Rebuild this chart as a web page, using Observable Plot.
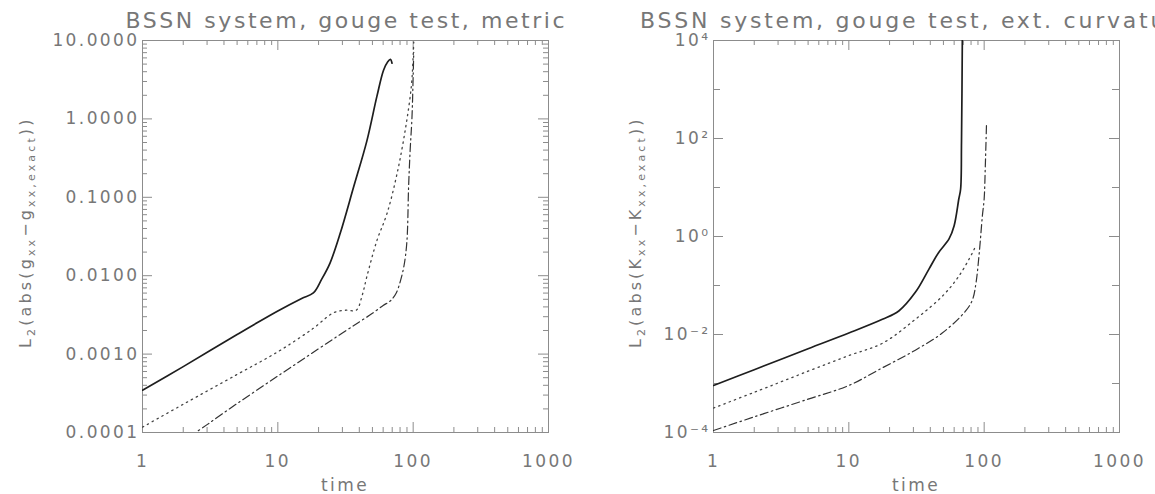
<!DOCTYPE html>
<html>
<head>
<meta charset="utf-8">
<script src="https://cdn.jsdelivr.net/npm/d3@7"></script>
<script src="https://cdn.jsdelivr.net/npm/@observablehq/plot@0.6"></script>
<style>
html, body { margin: 0; padding: 0; background: #fff; }
#wrap { display: flex; width: 1155px; height: 494px; overflow: hidden; }
#wrap svg { display: block; flex: none; }
</style>
</head>
<body>
<div id="wrap"></div>
<script>
// ---------- axis ticks / labels ----------
const xMajor = [1, 10, 100, 1000];
const xMajorLabels = ["1", "10", "100", "1000"];
const xMinor = [2, 3, 4, 5, 6, 7, 8, 9, 20, 30, 40, 50, 60, 70, 80, 90, 200, 300, 400, 500, 600, 700, 800, 900];

const metricYMajor = [1e-4, 1e-3, 1e-2, 1e-1, 1, 10];
const metricYLabels = ["0.0001", "0.0010", "0.0100", "0.1000", "1.0000", "10.0000"];
const metricYMinor = [2e-4, 3e-4, 4e-4, 5e-4, 6e-4, 7e-4, 8e-4, 9e-4,
  2e-3, 3e-3, 4e-3, 5e-3, 6e-3, 7e-3, 8e-3, 9e-3,
  0.02, 0.03, 0.04, 0.05, 0.06, 0.07, 0.08, 0.09,
  0.2, 0.3, 0.4, 0.5, 0.6, 0.7, 0.8, 0.9,
  2, 3, 4, 5, 6, 7, 8, 9];

const curvYMajor = [1e-4, 1e-2, 1, 1e2, 1e4];
const curvYLabels = ["10⁻⁴", "10⁻²", "10⁰", "10²", "10⁴"];
const curvYMinor = [1e-3, 1e-1, 10, 1e3];

// ---------- titles ----------
const metricTitle = "BSSN system, gouge test, metric";
const curvTitle = "BSSN system, gouge test, ext. curvature";
const xLabel = "time";

// ---------- data: metric panel ----------
const metricSolidT = [1, 2, 5, 10, 15, 18.3, 21, 24.3, 28.9, 36.3, 45.5, 54, 60.4, 64.9, 67.9, 69.8];
const metricSolidV = [3.47e-4, 6.92e-4, 1.78e-3, 3.55e-3, 5.13e-3, 6.03e-3, 8.91e-3, 0.0145, 0.0347, 0.135, 0.525, 1.95, 4.17, 5.37, 5.75, 5.13];

const metricDotT = [1, 2, 5, 10, 18, 26, 32, 38, 42, 45.5, 54, 64, 76, 88, 97, 100, 101];
const metricDotV = [1.17e-4, 2.29e-4, 5.5e-4, 1.07e-3, 2.09e-3, 3.39e-3, 3.63e-3, 3.63e-3, 5.62e-3, 9.77e-3, 0.0282, 0.0617, 0.2, 0.776, 2.63, 6.31, 9.55];

const metricDashDotT = [2.2, 3, 5, 10, 20, 30, 40, 50, 60, 68, 75, 81, 86, 90, 92.5, 95, 98, 100, 101];
const metricDashDotV = [8.7e-5, 1.26e-4, 2.34e-4, 5.25e-4, 1.17e-3, 1.86e-3, 2.57e-3, 3.31e-3, 4.17e-3, 4.79e-3, 6.03e-3, 8.91e-3, 0.0141, 0.0282, 0.135, 0.398, 1.05, 3.55, 7.08];

// ---------- data: extrinsic curvature panel ----------
const curvSolidT = [1, 2, 5, 10, 17.7, 23.4, 31, 39, 46, 55, 60, 65, 67, 68, 69];
const curvSolidV = [9.12e-4, 1.91e-3, 5.13e-3, 0.0107, 0.0204, 0.0302, 0.0724, 0.214, 0.468, 0.891, 1.66, 5.89, 9.33, 85.1, 12600];

const curvDotT = [1, 2, 5, 10, 17.7, 31, 49, 65, 82, 87];
const curvDotV = [3.16e-4, 6.61e-4, 1.78e-3, 3.72e-3, 6.61e-3, 0.0204, 0.0603, 0.155, 0.468, 0.661];

const curvDashDotT = [1, 2, 5, 10, 17.7, 31, 49, 73, 82, 87, 92, 97, 100, 102, 104];
const curvDashDotV = [1.1e-4, 2.09e-4, 4.79e-4, 9.12e-4, 2.09e-3, 4.79e-3, 0.0107, 0.0302, 0.0513, 0.112, 0.468, 2.63, 5.89, 28.2, 186];

// ---------- helpers ----------
const zip = (ts, vs) => ts.map((t, i) => ({t, v: vs[i]}));
const AX = "#8c8c8c";
const TXT = "#777";
const FONT = "DejaVu Sans, sans-serif";
const HEIGHT = 494, MT = 40, MB = 62;

const lineStyles = {
  solid:   {stroke: "#1e1e1e", strokeWidth: 1.7},
  dotted:  {stroke: "#444", strokeWidth: 1.3, strokeDasharray: "1.4,4.2"},
  dashdot: {stroke: "#333", strokeWidth: 1.2, strokeDasharray: "8,3.5,1.5,3.5"}
};

function panel(cfg) {
  const W = cfg.width - cfg.marginLeft - cfg.marginRight;
  const H = HEIGHT - MT - MB;
  const labelOf = new Map(cfg.yMajor.map((v, i) => [v, cfg.yLabels[i]]));
  const xLabelOf = new Map(xMajor.map((v, i) => [v, xMajorLabels[i]]));
  const marks = [
    Plot.frame({stroke: AX, strokeWidth: 1}),
    // x ticks (bottom + top, inward)
    Plot.ruleX(xMajor, {stroke: AX, insetTop: H - 10}),
    Plot.ruleX(xMajor, {stroke: AX, insetBottom: H - 10}),
    Plot.ruleX(xMinor, {stroke: AX, insetTop: H - 5}),
    Plot.ruleX(xMinor, {stroke: AX, insetBottom: H - 5}),
    // y ticks (left + right, inward)
    Plot.ruleY(cfg.yMajor, {stroke: AX, insetRight: W - 10}),
    Plot.ruleY(cfg.yMajor, {stroke: AX, insetLeft: W - 10}),
    Plot.ruleY(cfg.yMinor, {stroke: AX, insetRight: W - cfg.minorLen}),
    Plot.ruleY(cfg.yMinor, {stroke: AX, insetLeft: W - cfg.minorLen}),
    // tick labels
    Plot.axisX(xMajor, {anchor: "bottom", tickSize: 0, tickPadding: 22, fontSize: 17, fill: TXT,
      tickFormat: d => xLabelOf.get(d), label: null}),
    Plot.axisY(cfg.yMajor, {anchor: "left", tickSize: 0, tickPadding: 3, fontSize: 17, fill: TXT,
      tickFormat: d => labelOf.get(d), label: null}),
    // curves
    ...cfg.series.map(s => Plot.line(s.data, {x: "t", y: "v", curve: "catmull-rom", clip: true, ...lineStyles[s.style]}))
  ];
  const svg = Plot.plot({
    width: cfg.width,
    height: HEIGHT,
    marginTop: MT,
    marginBottom: MB,
    marginLeft: cfg.marginLeft,
    marginRight: cfg.marginRight,
    x: {type: "log", domain: [1, 1000], axis: null},
    y: {type: "log", domain: cfg.yDomain, axis: null},
    style: {fontFamily: FONT, background: "#fff", letterSpacing: "2.4px", overflow: "hidden"},
    marks
  });

  const s = d3.select(svg);
  const cx = cfg.marginLeft + W / 2;
  // title
  s.append("text")
    .attr("x", cx).attr("y", 28)
    .attr("text-anchor", "middle")
    .attr("font-size", 22)
    .attr("fill", TXT)
    .style("letter-spacing", "0px")
    .attr("textLength", cfg.titleLength)
    .attr("lengthAdjust", "spacing")
    .text(cfg.title);
  // x label
  s.append("text")
    .attr("x", cx).attr("y", 491)
    .attr("text-anchor", "middle")
    .attr("font-size", 17)
    .attr("fill", TXT)
    .text(xLabel);
  // y label with subscripts
  const yl = s.append("text")
    .attr("transform", `translate(${cfg.yLabelX},${MT + H / 2 - 3}) rotate(-90)`)
    .attr("text-anchor", "middle")
    .attr("font-size", 16)
    .attr("fill", TXT)
    .style("letter-spacing", "1.5px")
    .attr("textLength", 230)
    .attr("lengthAdjust", "spacing");
  const parts = [
    ["L", false], ["2", true], ["(abs(" + cfg.sym, false], ["xx", true],
    ["\u2212" + cfg.sym, false], ["xx,exact", true], ["))", false]
  ];
  let shifted = false;
  parts.forEach(([txt, sub]) => {
    const t = yl.append("tspan").text(txt);
    if (sub) {
      t.attr("font-size", 11);
      if (!shifted) { t.attr("dy", 4); shifted = true; }
    } else if (shifted) {
      t.attr("dy", -4); shifted = false;
    }
  });
  return svg;
}

const left = panel({
  width: 578, marginLeft: 142, marginRight: 30,
  yDomain: [1e-4, 10], yMajor: metricYMajor, yLabels: metricYLabels, yMinor: metricYMinor, minorLen: 5,
  title: metricTitle, titleLength: 439, sym: "g", yLabelX: 31,
  series: [
    {data: zip(metricSolidT, metricSolidV), style: "solid"},
    {data: zip(metricDotT, metricDotV), style: "dotted"},
    {data: zip(metricDashDotT, metricDashDotV), style: "dashdot"}
  ]
});

const right = panel({
  width: 577, marginLeft: 135, marginRight: 36,
  yDomain: [1e-4, 1e4], yMajor: curvYMajor, yLabels: curvYLabels, yMinor: curvYMinor, minorLen: 7,
  title: curvTitle, titleLength: 552, sym: "K", yLabelX: 63,
  series: [
    {data: zip(curvSolidT, curvSolidV), style: "solid"},
    {data: zip(curvDotT, curvDotV), style: "dotted"},
    {data: zip(curvDashDotT, curvDashDotV), style: "dashdot"}
  ]
});

document.getElementById("wrap").append(left, right);
</script>
</body>
</html>
